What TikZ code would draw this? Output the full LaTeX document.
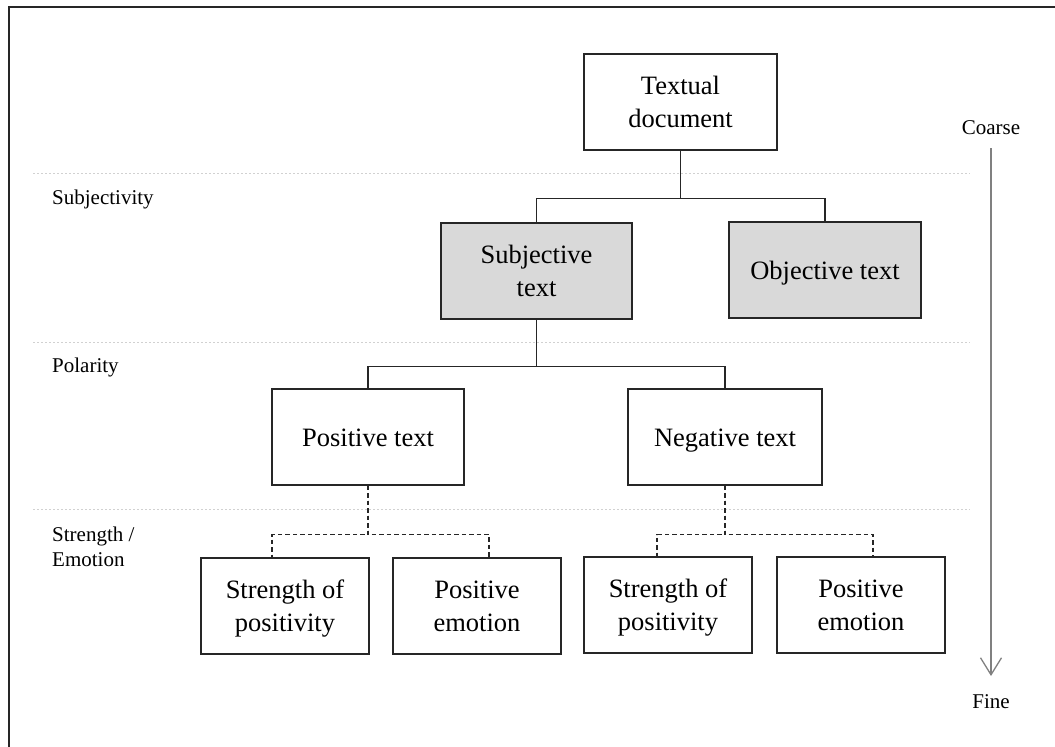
\documentclass[tikz,border=0pt]{standalone}
\usepackage{fontspec}
\setmainfont{Liberation Serif}
\usetikzlibrary{arrows.meta,calc}
\tikzset{
  box/.style={draw=black!85, line width=1.3pt, minimum width=192pt, minimum height=96pt,
    inner sep=2pt, align=center, font=\fontsize{26.5}{33}\selectfont, text depth=0pt},
  oneline/.style={text height=19pt},
  smallbox/.style={box, minimum width=168pt},
  shaded/.style={fill=black!15},
  conn/.style={draw=black!85, line width=1.2pt},
  dconn/.style={conn, dash pattern=on 4.5pt off 3pt},
  guide/.style={draw=black!18, line width=0.9pt, dash pattern=on 2pt off 2pt},
  lvl/.style={font=\fontsize{21}{25}\selectfont, inner sep=0pt, align=left},
  axis/.style={draw=black!50, line width=1.3pt, -{Straight Barb[length=17pt,width=21pt,line width=1.3pt]}}
}
\begin{document}
\begin{tikzpicture}[x=1pt,y=-1pt]
\useasboundingbox (0,0) rectangle (1055,747);
\clip (0,0) rectangle (1055,747);
\draw[line width=2pt, draw=black!85] (9,7) rectangle (1120,820);

% guide lines
\draw[guide] (33,173) -- (970,173);
\draw[guide] (33,342) -- (970,342);
\draw[guide] (33,509) -- (970,509);

% level labels
\node[lvl, anchor=base west] (l1) at (52,204) {Subjectivity};
\node[lvl, anchor=base west] (l2) at (52,372) {Polarity};
\node[lvl, anchor=base west] (l3) at (52,541) {Strength /};
\node[lvl, anchor=base west] (l4) at (52,566) {Emotion};

% axis
\node[lvl, anchor=base] (coarse) at (991,134) {Coarse};
\node[lvl, anchor=base] (fine) at (991,708) {Fine};
\coordinate (ax1) at (991,148);
\coordinate (ax2) at (991,676);
\draw[axis] (ax1) -- (ax2);

% boxes
\node[box, minimum width=193pt] (td) at (680.5,102) {Textual\\document};
\node[box, shaded, minimum width=191pt] (subj) at (536.5,271) {Subjective\\text};
\node[box, shaded, oneline] (obj) at (825,270) {Objective text};
\node[box, oneline] (pos) at (368,437) {Positive text};
\node[box, oneline, minimum width=194pt] (neg) at (725,437) {Negative text};
\node[smallbox] (sp1) at (285,606) {Strength of\\positivity};
\node[smallbox] (pe1) at (477,606) {Positive\\emotion};
\node[smallbox] (sp2) at (668,605) {Strength of\\positivity};
\node[smallbox] (pe2) at (861,605) {Positive\\emotion};

% connectors
\draw[conn] (td.south) -- ++(0,48) -| (subj.north);
\draw[conn] (td.south) -- ++(0,48) -| (obj.north);
\draw[conn] (subj.south) -- ++(0,47) -| (pos.north);
\draw[conn] (subj.south) -- ++(0,47) -| (neg.north);
\draw[dconn] (pos.south) -- ++(0,49) -| ([xshift=-13pt]sp1.north);
\draw[dconn] (pos.south) -- ++(0,49) -| ([xshift=12pt]pe1.north);
\draw[dconn] (neg.south) -- ++(0,49) -| ([xshift=-11pt]sp2.north);
\draw[dconn] (neg.south) -- ++(0,49) -| ([xshift=12pt]pe2.north);
\end{tikzpicture}
\end{document}
